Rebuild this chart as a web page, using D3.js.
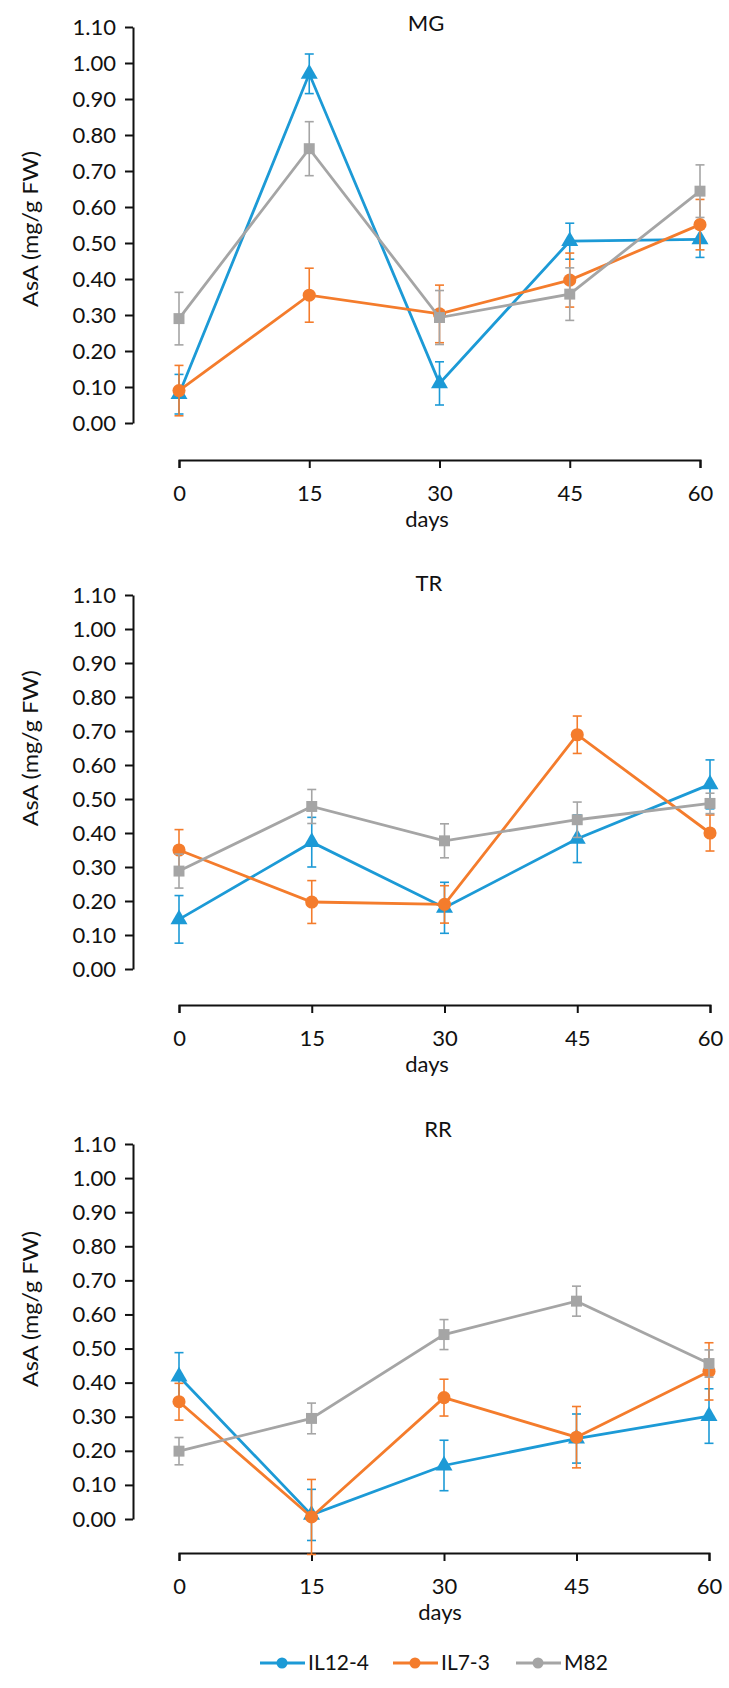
<!DOCTYPE html>
<html>
<head>
<meta charset="utf-8">
<script src="https://cdn.jsdelivr.net/npm/d3@7"></script>
<style>
  body { margin: 0; background: #fff; }
  text { font-family: Lato, "Open Sans", sans-serif; fill: #111; }
</style>
</head>
<body>
<div id="chart"></div>
<script>
// data
var days = [0, 15, 30, 45, 60];
var yTicks = [0, 0.1, 0.2, 0.3, 0.4, 0.5, 0.6, 0.7, 0.8, 0.9, 1.0, 1.1];
var seriesNames = ["IL12-4", "IL7-3", "M82"];
var seriesColors = ["#1c9ad6", "#f47c2c", "#a5a5a5"];
var panelNames = ["MG", "TR", "RR"];

var mgIL12 = [0.08, 0.97, 0.11, 0.505, 0.51];
var mgIL12Err = [0.055, 0.055, 0.06, 0.05, 0.05];
var mgIL7 = [0.09, 0.355, 0.303, 0.397, 0.551];
var mgIL7Err = [0.07, 0.075, 0.08, 0.075, 0.07];
var mgM82 = [0.29, 0.762, 0.293, 0.358, 0.644];
var mgM82Err = [0.073, 0.075, 0.075, 0.073, 0.073];

var trIL12 = [0.146, 0.373, 0.18, 0.383, 0.543];
var trIL12Err = [0.07, 0.073, 0.075, 0.07, 0.072];
var trIL7 = [0.35, 0.197, 0.19, 0.689, 0.40];
var trIL7Err = [0.06, 0.063, 0.055, 0.055, 0.053];
var trM82 = [0.288, 0.478, 0.377, 0.439, 0.487];
var trM82Err = [0.05, 0.05, 0.05, 0.052, 0.03];

var rrIL12 = [0.418, 0.012, 0.157, 0.236, 0.302];
var rrIL12Err = [0.07, 0.075, 0.074, 0.072, 0.08];
var rrIL7 = [0.344, 0.006, 0.356, 0.24, 0.433];
var rrIL7Err = [0.054, 0.11, 0.054, 0.09, 0.084];
var rrM82 = [0.199, 0.295, 0.541, 0.639, 0.456];
var rrM82Err = [0.04, 0.045, 0.044, 0.044, 0.04];

var panelValues = [
	[[mgIL12, mgIL12Err], [mgIL7, mgIL7Err], [mgM82, mgM82Err]],
	[[trIL12, trIL12Err], [trIL7, trIL7Err], [trM82, trM82Err]],
	[[rrIL12, rrIL12Err], [rrIL7, rrIL7Err], [rrM82, rrM82Err]]
];

// layout of the three stacked panels
var layout = [
	{top: 27, bottom: 423, xAxis: 460, titleY: 23, titleX: 426, daysX: 427, x1: 700, labelPos: 0.51},
	{top: 595, bottom: 969, xAxis: 1005, titleY: 583, titleX: 429, daysX: 427, x1: 710, labelPos: 0.41},
	{top: 1144, bottom: 1519, xAxis: 1553, titleY: 1129, titleX: 438, daysX: 440, x1: 709, labelPos: 0.44}
];

var width = 729;
var height = 1688;
var axisX = 133;
var x0 = 179;
var fontSize = 22;

var svg = d3.select("#chart")
	.append("svg")
	.attr("width", width)
	.attr("height", height);

var symbols = [d3.symbolTriangle, d3.symbolCircle, d3.symbolSquare];
var symbolSizes = [125, 135, 120];

for (var p = 0; p < 3; p++) {
	var L = layout[p];
	var g = svg.append("g");

	var x = d3.scaleLinear().domain([0, 60]).range([x0, L.x1]);
	var y = d3.scaleLinear().domain([0, 1.1]).range([L.bottom, L.top]);

	// y axis
	var yAxis = g.append("g")
		.attr("transform", "translate(" + axisX + ",0)")
		.call(d3.axisLeft(y).tickValues(yTicks).tickFormat(d3.format(".2f"))
			.tickSize(8).tickSizeOuter(0).tickPadding(9));
	yAxis.select(".domain").attr("stroke", "#111").attr("stroke-width", 2);
	yAxis.selectAll(".tick line").attr("stroke", "#111").attr("stroke-width", 2);
	yAxis.selectAll("text").style("font-size", fontSize + "px").attr("fill", "#111");

	// x axis, detached below the plot
	var xAxis = g.append("g")
		.attr("transform", "translate(0," + L.xAxis + ")")
		.call(d3.axisBottom(x).tickValues(days).tickSize(8).tickSizeOuter(8).tickPadding(17));
	xAxis.select(".domain").attr("stroke", "#111").attr("stroke-width", 2);
	xAxis.selectAll(".tick line").attr("stroke", "#111").attr("stroke-width", 2);
	xAxis.selectAll("text").style("font-size", fontSize + "px").attr("fill", "#111");

	g.append("text")
		.attr("x", L.daysX)
		.attr("y", L.xAxis + 67)
		.attr("text-anchor", "middle")
		.style("font-size", fontSize + "px")
		.text("days");

	g.append("text")
		.attr("x", L.titleX)
		.attr("y", L.titleY)
		.attr("dy", "0.35em")
		.attr("text-anchor", "middle")
		.style("font-size", fontSize + "px")
		.text(panelNames[p]);

	g.append("text")
		.attr("transform", "translate(31," + (L.top + (L.bottom - L.top) * L.labelPos) + ") rotate(-90)")
		.attr("dy", "0.35em")
		.attr("text-anchor", "middle")
		.attr("textLength", 156)
		.attr("lengthAdjust", "spacingAndGlyphs")
		.style("font-size", "21px")
		.text("AsA (mg/g FW)");

	for (var s = 0; s < 3; s++) {
		var vals = panelValues[p][s][0];
		var errs = panelValues[p][s][1];
		var col = seriesColors[s];
		var pts = days.map(function (d, i) { return {d: d, v: vals[i], e: errs[i]}; });

		var line = d3.line().x(function (d) { return x(d.d); }).y(function (d) { return y(d.v); });
		g.append("path")
			.datum(pts)
			.attr("d", line)
			.attr("fill", "none")
			.attr("stroke", col)
			.attr("stroke-width", 2.8);

		var eb = g.append("g").selectAll("g").data(pts).enter().append("g");
		eb.append("line")
			.attr("x1", function (d) { return x(d.d); })
			.attr("x2", function (d) { return x(d.d); })
			.attr("y1", function (d) { return y(d.v - d.e); })
			.attr("y2", function (d) { return y(d.v + d.e); })
			.attr("stroke", col).attr("stroke-width", 1.6);
		eb.append("line")
			.attr("x1", function (d) { return x(d.d) - 4.5; })
			.attr("x2", function (d) { return x(d.d) + 4.5; })
			.attr("y1", function (d) { return y(d.v - d.e); })
			.attr("y2", function (d) { return y(d.v - d.e); })
			.attr("stroke", col).attr("stroke-width", 1.6);
		eb.append("line")
			.attr("x1", function (d) { return x(d.d) - 4.5; })
			.attr("x2", function (d) { return x(d.d) + 4.5; })
			.attr("y1", function (d) { return y(d.v + d.e); })
			.attr("y2", function (d) { return y(d.v + d.e); })
			.attr("stroke", col).attr("stroke-width", 1.6);

		g.append("g").selectAll("path").data(pts).enter().append("path")
			.attr("d", d3.symbol().type(symbols[s]).size(symbolSizes[s]))
			.attr("transform", function (d) { return "translate(" + x(d.d) + "," + y(d.v) + ")"; })
			.attr("fill", col);
	}
}

// legend
var legendY = 1663;
var legendX = [260, 393, 516];
var legend = svg.append("g").selectAll("g").data(seriesNames).enter().append("g")
	.attr("transform", function (d, i) { return "translate(" + legendX[i] + "," + legendY + ")"; });
legend.append("line")
	.attr("x1", 0).attr("x2", 45)
	.attr("stroke", function (d, i) { return seriesColors[i]; })
	.attr("stroke-width", 2.8);
legend.append("circle")
	.attr("cx", 22).attr("r", 5.5)
	.attr("fill", function (d, i) { return seriesColors[i]; });
legend.append("text")
	.attr("x", 48)
	.attr("dy", "0.35em")
	.style("font-size", "21px")
	.text(function (d) { return d; });
</script>
</body>
</html>
